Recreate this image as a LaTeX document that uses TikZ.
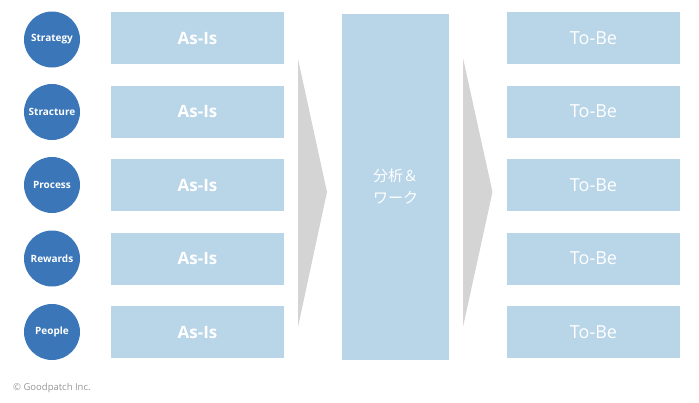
\documentclass[tikz,border=0pt]{standalone}
\usepackage{fontspec}
\setmainfont{Open Sans}
\newfontfamily\cjk{Noto Sans CJK JP}
\definecolor{dotblue}{RGB}{58,118,184}
\definecolor{boxblue}{RGB}{185,213,232}
\definecolor{arrowgray}{RGB}{212,212,212}
\definecolor{notegray}{RGB}{150,150,150}
\tikzset{
	area/.style={circle, fill=dotblue, minimum size=56pt, inner sep=0pt, text=white,
		font=\bfseries\fontsize{10}{11}\selectfont},
	asis/.style={fill=boxblue, minimum width=173pt, minimum height=52pt, inner sep=0pt, text=white,
		font=\bfseries\fontsize{17}{20}\selectfont},
	tobe/.style={asis, font=\fontsize{18}{20}\selectfont},
}
\begin{document}
\begin{tikzpicture}[x=1pt, y=-1pt]
		\useasboundingbox (0,0) rectangle (699,402);

		%% areas
		\node[area] at (52,39.5)(strategy){Strategy};
		\node[area] at (52,112)(structure){Stracture};
		\node[area] at (52,185)(process){Process};
		\node[area] at (52,258.5)(rewards){Rewards};
		\node[area] at (52,332)(people){People};

		%% as-is
		\node[asis] at (197.5,38)(asis1){As-Is};
		\node[asis] at (197.5,111.5)(asis2){As-Is};
		\node[asis] at (197.5,185)(asis3){As-Is};
		\node[asis] at (197.5,258.5)(asis4){As-Is};
		\node[asis] at (197.5,332)(asis5){As-Is};

		%% arrow
		\fill[arrowgray] (298,59)--(327,192)--(298,327)--cycle;

		%% work
		\node[fill=boxblue, minimum width=107pt, minimum height=346pt, inner sep=0pt,
			text=white, align=center, font=\cjk\fontsize{15}{22}\selectfont]
			at (395.5,187)(work){分析＆\\ワーク};

		%% arrow
		\fill[arrowgray] (463,58)--(492.5,192)--(463,327)--cycle;

		%% to-be
		\node[tobe] at (593.5,38)(tobe1){To-Be};
		\node[tobe] at (593.5,111.5)(tobe2){To-Be};
		\node[tobe] at (593.5,185)(tobe3){To-Be};
		\node[tobe] at (593.5,258.5)(tobe4){To-Be};
		\node[tobe] at (593.5,332)(tobe5){To-Be};

		%% credit
		\node[anchor=west, inner sep=0pt, text=notegray, font=\fontsize{9.5}{11}\selectfont]
			at (13,388)(credit){© Goodpatch Inc.};
	\end{tikzpicture}
\end{document}
